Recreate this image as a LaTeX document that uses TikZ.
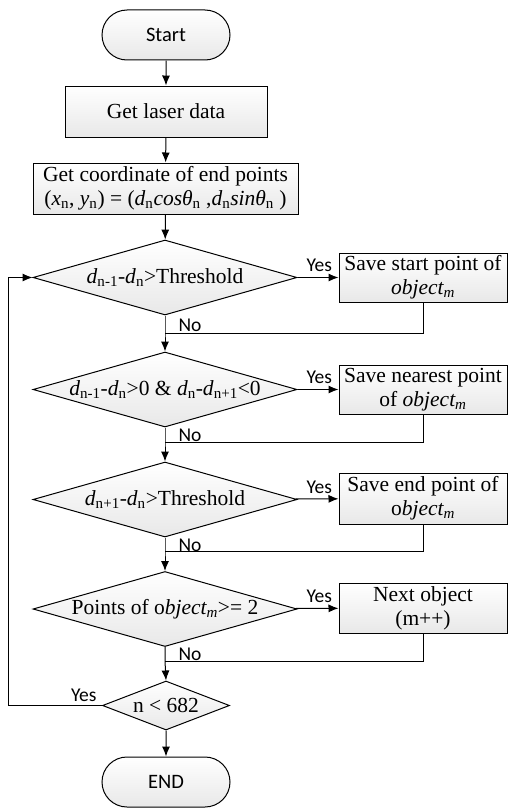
\documentclass[tikz,border=0pt]{standalone}
\usepackage{fontspec}
\setmainfont{Liberation Serif}
\newfontfamily\lblfont{Carlito}
\usetikzlibrary{arrows.meta,shapes.geometric,shapes.misc,calc}
\newcommand{\objm}{\textit{object\textsubscript{m}}}
\begin{document}
\begin{tikzpicture}[x=1pt,y=-1pt,
  line width=1pt,
  every node/.style={font=\fontsize{21.5}{25}\selectfont},
  shade/.style={top color=white,bottom color=black!9},
  term/.style={rounded rectangle,draw,shade,minimum width=128pt,minimum height=50pt,inner sep=0pt,font=\lblfont\fontsize{20.5}{24}\selectfont},
  proc/.style={rectangle,draw,shade,inner sep=0pt,align=center},
  dec/.style={diamond,draw,shade,inner sep=0pt,aspect=3.5},
  lbl/.style={font=\lblfont\fontsize{19.5}{22}\selectfont,inner sep=1pt},
  ylbl/.style={lbl,anchor=south east,pos=1,xshift=-5pt,yshift=4pt},
  arr/.style={-{Latex[length=10pt,width=8pt]}},
]
\useasboundingbox (0,0) rectangle (509,808);

\node[term] (start) at (166,35) {Start};
\node[proc,minimum width=202pt,minimum height=51pt] (laser) at (166,111.5) {Get laser data};
\node[proc,minimum width=265pt,minimum height=51pt] (coord) at (165.5,188.5) {Get coordinate of end points\\[-1pt]
  (\textit{x}\textsubscript{n}, \textit{y}\textsubscript{n}) = (\textit{d}\textsubscript{n}\textit{cosθ}\textsubscript{n} ,\textit{d}\textsubscript{n}\textit{sinθ}\textsubscript{n} )};

\node[dec,minimum width=264pt,minimum height=75pt] (d1) at (165,277.5) {\textit{d}\textsubscript{n-1}-\textit{d}\textsubscript{n}>Threshold};
\node[proc,minimum width=168pt,minimum height=49pt] (b1) at (423,277.5) {Save start point of\\[-1pt] \objm};

\node[dec,minimum width=264pt,minimum height=75pt] (d2) at (165,389.5) {\textit{d}\textsubscript{n-1}-\textit{d}\textsubscript{n}>0 \& \textit{d}\textsubscript{n}-\textit{d}\textsubscript{n+1}<0};
\node[proc,minimum width=168pt,minimum height=49pt] (b2) at (423,389.5) {Save nearest point\\[-1pt] of \objm};

\node[dec,minimum width=264pt,minimum height=75pt] (d3) at (165,499.5) {\textit{d}\textsubscript{n+1}-\textit{d}\textsubscript{n}>Threshold};
\node[proc,minimum width=168pt,minimum height=51pt] (b3) at (423,498.5) {Save end point of\\[-1pt] o\textit{bject\textsubscript{m}}};

\node[dec,minimum width=264pt,minimum height=75pt] (d4) at (165,609) {Points of o\textit{bject\textsubscript{m}}>= 2};
\node[proc,minimum width=168pt,minimum height=50pt] (b4) at (423,608) {Next object\\[-1pt] (m++)};

\node[dec,minimum width=127pt,minimum height=49pt,aspect=2.6] (d5) at (166,705.5) {n < 682};
\node[term] (end) at (166,782) {END};

\coordinate (j1) at (d1.south |- 0,333);
\coordinate (j2) at (d2.south |- 0,442);
\coordinate (j3) at (d3.south |- 0,551);
\coordinate (j4) at (d4.south |- 0,661);
\coordinate (loop) at (8,0);

\draw[arr] (start) -- (laser);
\draw[arr] (laser) -- (coord);
\draw[arr] (coord) -- (d1);

\draw[arr] (d1) -- node[ylbl] {Yes} (b1);
\draw (b1.south) |- (j1);
\draw[arr] (d1.south) -- node[lbl,right=12pt,pos=0.55] {No} (j1) -- (d2.north);

\draw[arr] (d2) -- node[ylbl] {Yes} (b2);
\draw (b2.south) |- (j2);
\draw[arr] (d2.south) -- node[lbl,right=12pt,pos=0.55] {No} (j2) -- (d3.north);

\draw[arr] (d3) -- node[ylbl] {Yes} (b3);
\draw (b3.south) |- (j3);
\draw[arr] (d3.south) -- node[lbl,right=12pt,pos=0.55] {No} (j3) -- (d4.north);

\draw[arr] (d4) -- node[ylbl] {Yes} (b4);
\draw (b4.south) |- (j4);
\draw[arr] (d4.south) -- node[lbl,right=12pt,pos=0.55] {No} (j4) -- (d5.north);

\draw[arr] (d5.west) -- node[lbl,anchor=south east,pos=0,xshift=-4pt,yshift=2pt] {Yes} (loop |- d5.west) |- (d1.west);
\draw[arr] (d5) -- (end);
\end{tikzpicture}
\end{document}
